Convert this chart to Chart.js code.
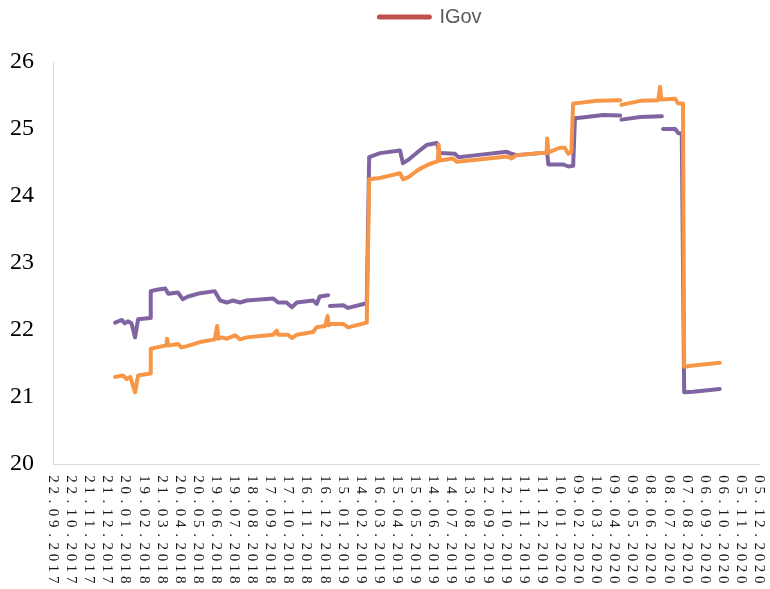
<!DOCTYPE html>
<html>
<head>
<meta charset="utf-8">
<script src="https://cdn.jsdelivr.net/npm/chart.js@4.4.1/dist/chart.umd.min.js"></script>
<style>
  html, body { margin: 0; padding: 0; background: #ffffff; }
  #wrap { width: 770px; height: 589px; }
</style>
</head>
<body>
<div id="wrap"><canvas id="c" width="770" height="589"></canvas></div>
<script>
// ---- Data ----
const startDate = "22.09.2017";
const tickLabels = [
  "22.09.2017","22.10.2017","21.11.2017","21.12.2017","20.01.2018","19.02.2018",
  "21.03.2018","20.04.2018","20.05.2018","19.06.2018","19.07.2018","18.08.2018",
  "17.09.2018","17.10.2018","16.11.2018","16.12.2018","15.01.2019","14.02.2019",
  "16.03.2019","15.04.2019","15.05.2019","14.06.2019","14.07.2019","13.08.2019",
  "12.09.2019","12.10.2019","11.11.2019","11.12.2019","10.01.2020","09.02.2020",
  "10.03.2020","09.04.2020","09.05.2020","08.06.2020","08.07.2020","07.08.2020",
  "06.09.2020","06.10.2020","05.11.2020","05.12.2020"
];
const yTicks = [20, 21, 22, 23, 24, 25, 26];

const purpleDates = [
  "03.01.2018","14.01.2018","19.01.2018","24.01.2018","30.01.2018","05.02.2018","10.02.2018",
  "02.03.2018","03.03.2018","13.03.2018","27.03.2018","01.04.2018","17.04.2018","25.04.2018",
  "04.05.2018","24.05.2018","17.06.2018","26.06.2018","07.07.2018","17.07.2018","29.07.2018",
  "09.08.2018","22.09.2018","30.09.2018","14.10.2018","23.10.2018","31.10.2018","27.11.2018",
  "03.12.2018","08.12.2018","22.12.2018","24.12.2018","25.12.2018","16.01.2019","24.01.2019",
  "24.02.2019","28.02.2019","18.03.2019","20.04.2019","25.04.2019","04.05.2019","20.05.2019",
  "03.06.2019","20.06.2019","25.06.2019","20.07.2019","26.07.2019","25.08.2019","14.10.2019",
  "22.10.2019","30.10.2019","08.12.2019","20.12.2019","22.12.2019","16.01.2020","24.01.2020",
  "01.02.2020","04.02.2020","23.02.2020","22.03.2020","19.04.2020","20.04.2020","21.04.2020",
  "22.05.2020","27.06.2020","28.06.2020","29.06.2020","19.07.2020","24.07.2020","30.07.2020",
  "03.08.2020","18.08.2020","01.10.2020"
];
const purpleValues = [
  22.11,22.15,22.10,22.13,22.10,21.89,22.16,
  22.18,22.58,22.60,22.62,22.54,22.56,22.46,
  22.50,22.55,22.58,22.44,22.41,22.44,22.41,
  22.44,22.47,22.41,22.41,22.34,22.41,22.44,
  22.39,22.50,22.52,null,22.36,22.37,22.33,
  22.40,24.58,24.64,24.68,24.49,24.54,24.66,
  24.76,24.79,24.64,24.63,24.58,24.61,24.66,
  24.63,24.61,24.64,24.64,24.47,24.47,24.44,
  24.45,25.16,25.18,25.21,25.20,null,25.14,
  25.18,25.19,null,25.00,25.00,24.94,24.93,
  21.07,21.08,21.12
];

const orangeDates = [
  "03.01.2018","16.01.2018","22.01.2018","28.01.2018","05.02.2018","10.02.2018","02.03.2018",
  "03.03.2018","13.03.2018","29.03.2018","30.03.2018","01.04.2018","17.04.2018","23.04.2018",
  "02.05.2018","24.05.2018","17.06.2018","21.06.2018","23.06.2018","29.06.2018","07.07.2018",
  "21.07.2018","29.07.2018","09.08.2018","22.09.2018","28.09.2018","30.09.2018","16.10.2018",
  "23.10.2018","31.10.2018","27.11.2018","03.12.2018","17.12.2018","21.12.2018","23.12.2018",
  "25.12.2018","16.01.2019","24.01.2019","24.02.2019","28.02.2019","18.03.2019","20.04.2019",
  "25.04.2019","04.05.2019","20.05.2019","06.06.2019","22.06.2019","23.06.2019","25.06.2019",
  "17.07.2019","23.07.2019","25.08.2019","14.10.2019","22.10.2019","30.10.2019","08.12.2019",
  "19.12.2019","20.12.2019","22.12.2019","10.01.2020","18.01.2020","24.01.2020","29.01.2020",
  "01.02.2020","12.02.2020","11.03.2020","19.04.2020","20.04.2020","21.04.2020","22.05.2020",
  "21.06.2020","24.06.2020","26.06.2020","19.07.2020","24.07.2020","01.08.2020","03.08.2020",
  "18.08.2020","01.10.2020"
];
const orangeValues = [
  21.30,21.32,21.27,21.30,21.07,21.32,21.35,
  21.72,21.74,21.77,21.87,21.77,21.79,21.74,
  21.76,21.82,21.86,22.06,21.87,21.89,21.87,
  21.92,21.86,21.89,21.93,21.99,21.93,21.93,
  21.88,21.93,21.97,22.04,22.06,22.21,22.07,
  22.09,22.09,22.04,22.11,24.25,24.27,24.34,
  24.25,24.28,24.39,24.47,24.52,24.77,24.53,
  24.56,24.51,24.54,24.59,24.56,24.61,24.64,
  24.64,24.86,24.65,24.72,24.72,24.63,24.66,
  25.38,25.39,25.42,25.43,null,25.36,25.42,
  25.43,25.63,25.44,25.45,25.38,25.38,21.45,
  21.47,21.51
];

// ---- helpers ----
function dayIndex(s) {
  const p = s.split(".");
  const q = startDate.split(".");
  const a = Date.UTC(+p[2], +p[1] - 1, +p[0]);
  const b = Date.UTC(+q[2], +q[1] - 1, +q[0]);
  return Math.round((a - b) / 86400000);
}
function toPoints(dates, values) {
  return dates.map((d, i) => ({ x: dayIndex(d), y: values[i] }));
}
const lastDay = dayIndex(tickLabels[tickLabels.length - 1]);

// Rotated (clockwise) x tick labels drawn at the scale's own tick positions
const xLabelPlugin = {
  id: "xLabels",
  afterDraw(chart) {
    const xs = chart.scales.x;
    const ctx = chart.ctx;
    ctx.save();
    ctx.fillStyle = "#1a1a1a";
    ctx.font = "15px 'Liberation Serif', 'Times New Roman', serif";
    ctx.textBaseline = "middle";
    ctx.textAlign = "center";
    const y0 = chart.chartArea.bottom + 15;
    const step = 11.2;
    tickLabels.forEach((lab) => {
      const px = xs.getPixelForValue(dayIndex(lab));
      ctx.save();
      ctx.translate(px, y0);
      ctx.rotate(Math.PI / 2);
      for (let i = 0; i < lab.length; i++) {
        ctx.fillText(lab[i], i * step, 0);
      }
      ctx.restore();
    });
    ctx.restore();
  }
};

const TOP_PAD = 25;
const legendShift = {
  id: "legendShift",
  beforeDraw(chart) {
    const lg = chart.legend;
    if (!lg || lg._shifted) return;
    lg.left += 51; lg.right += 51;
    lg.top -= TOP_PAD; lg.bottom -= TOP_PAD;
    lg._shifted = true;
  },
  afterUpdate(chart) { if (chart.legend) chart.legend._shifted = false; }
};

new Chart(document.getElementById("c"), {
  type: "line",
  data: {
    datasets: [
      { label: "IGov", data: [], borderColor: "#c0504d", backgroundColor: "#c0504d", borderWidth: 4 },
      { label: "", data: toPoints(orangeDates, orangeValues), borderColor: "#f79646", borderWidth: 4,
        pointRadius: 0, tension: 0, spanGaps: false, borderCapStyle: "round", borderJoinStyle: "round" },
      { label: "", data: toPoints(purpleDates, purpleValues), borderColor: "#8064a2", borderWidth: 4,
        pointRadius: 0, tension: 0, spanGaps: false, borderCapStyle: "round", borderJoinStyle: "round" }
    ]
  },
  options: {
    responsive: false,
    animation: false,
    events: [],
    layout: { padding: { top: TOP_PAD, right: 11, left: 0, bottom: 0 } },
    plugins: {
      tooltip: { enabled: false },
      legend: {
        display: true,
        position: "top",
        labels: {
          usePointStyle: true,
          pointStyleWidth: 50,
          boxHeight: 5,
          padding: 7,
          color: "#595959",
          font: { family: "'Liberation Sans', Arial, sans-serif", size: 20 },
          generateLabels() {
            return [{ text: "IGov", pointStyle: "line", strokeStyle: "#c0504d", fillStyle: "#c0504d",
                      lineWidth: 5, lineCap: "round", hidden: false, datasetIndex: 0, fontColor: "#595959" }];
          }
        }
      }
    },
    scales: {
      x: {
        type: "linear",
        min: 0,
        max: lastDay,
        grid: { display: false, drawTicks: false },
        border: { display: true, color: "#d9d9d9", width: 1 },
        ticks: { display: false, stepSize: 30 },
        afterFit(scale) { scale.height = 125; }
      },
      y: {
        min: 20,
        max: 26,
        grid: { display: false, drawTicks: false },
        border: { display: true, color: "#d9d9d9", width: 1 },
        ticks: {
          stepSize: 1,
          padding: 19,
          color: "#000000",
          font: { family: "'Liberation Serif', 'Times New Roman', serif", size: 24 },
          callback: (v) => (yTicks.includes(v) ? String(v) : "")
        },
        afterFit(scale) { scale.width = 53; }
      }
    }
  },
  plugins: [xLabelPlugin, legendShift]
});
</script>
</body>
</html>
